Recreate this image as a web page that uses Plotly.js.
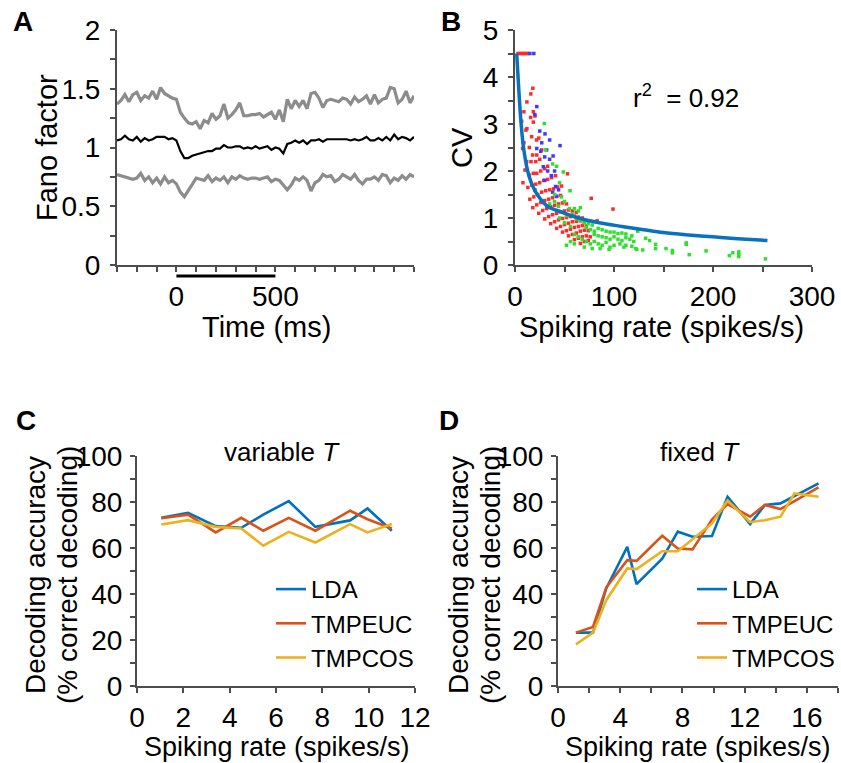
<!DOCTYPE html>
<html>
<head>
<meta charset="utf-8">
<script src="https://cdn.plot.ly/plotly-3.0.1.min.js"></script>
<style>html,body{margin:0;padding:0;background:#fff;}#chart{width:841px;height:763px;}</style>
</head>
<body>
<div id="chart"></div>
<script>
// ---------- Panel A: Fano factor ----------
const timeMs = [-300,-280,-260,-240,-220,-200,-180,-160,-140,-120,-100,-80,-60,-40,-20,0,20,40,60,80,100,120,140,160,180,200,220,240,260,280,300,320,340,360,380,400,420,440,460,480,500,520,540,560,580,600,620,640,660,680,700,720,740,760,780,800,820,840,860,880,900,920,940,960,980,1000,1020,1040,1060,1080,1100,1120,1140,1160,1180,1200];
const fanoMean = [1.06,1.07,1.10,1.07,1.06,1.09,1.05,1.08,1.06,1.07,1.09,1.09,1.09,1.07,1.08,1.06,0.97,0.91,0.91,0.93,0.94,0.95,0.96,0.97,0.97,0.99,0.99,1.02,1.00,1.00,1.01,1.01,0.99,1.00,0.99,1.01,0.99,1.00,1.01,0.98,1.00,0.99,0.95,1.03,1.04,1.06,1.04,1.06,1.03,1.06,1.06,1.07,1.05,1.07,1.07,1.07,1.07,1.07,1.07,1.06,1.07,1.06,1.07,1.09,1.06,1.06,1.08,1.06,1.09,1.06,1.11,1.07,1.09,1.08,1.06,1.09];
const fanoUpper = [1.37,1.40,1.45,1.39,1.45,1.47,1.40,1.44,1.42,1.48,1.41,1.51,1.46,1.44,1.42,1.41,1.30,1.25,1.21,1.20,1.22,1.16,1.23,1.21,1.29,1.24,1.27,1.37,1.25,1.28,1.32,1.38,1.27,1.27,1.28,1.28,1.29,1.26,1.28,1.30,1.24,1.32,1.22,1.41,1.33,1.40,1.35,1.40,1.33,1.46,1.47,1.42,1.34,1.40,1.41,1.40,1.39,1.42,1.41,1.37,1.43,1.39,1.41,1.44,1.37,1.45,1.38,1.41,1.42,1.51,1.50,1.38,1.41,1.48,1.38,1.44];
const fanoLower = [0.77,0.76,0.75,0.74,0.73,0.74,0.78,0.72,0.75,0.70,0.74,0.69,0.75,0.70,0.72,0.69,0.62,0.58,0.63,0.68,0.74,0.73,0.72,0.76,0.71,0.74,0.72,0.75,0.70,0.75,0.73,0.76,0.74,0.73,0.74,0.74,0.73,0.74,0.75,0.71,0.73,0.72,0.68,0.64,0.68,0.74,0.72,0.75,0.72,0.63,0.70,0.72,0.77,0.75,0.76,0.71,0.73,0.77,0.75,0.73,0.77,0.72,0.69,0.73,0.73,0.75,0.72,0.77,0.76,0.70,0.74,0.72,0.76,0.73,0.77,0.75];
const stimBar = [0, 500];

// ---------- Panel B: CV vs spiking rate ----------
const redRate = [3,5,7,9,11,13,18,16,12,9,15.8,18.5,20.2,18.5,11,16.8,21.8,7.7,14.5,17.8,22,11.8,16.2,21,25,10.1,14.5,18.5,22,26,30,33,8,13,17,21,25,29,33,37,41,53,15,19,23,27,31,35,39,43,47,18,22,26,30,34,38,42,46,77,99,24,28,32,36,40,44,48,52,30,34,38,42,46,50,54,58,62,36,40,44,48,52,56,60,64,68,42,46,50,54,58,62,66,70,83,48,52,56,60,64,68,72,54,58,62,66,70,74,60,64,68,72,76,66,70,74,6.7,12,9,27,24];
const redCV   = [4.5,4.5,4.5,4.5,4.5,4.5,3.76,3.64,3.47,3.26,3.14,3.26,3.17,3.04,2.87,2.73,2.66,2.48,2.5,2.34,2.34,2.2,2.2,2.2,2.25,2.02,1.91,1.95,1.95,2.0,2.05,2.1,1.75,1.65,1.7,1.72,1.75,1.8,1.82,1.86,1.9,1.94,1.4,1.45,1.5,1.55,1.58,1.6,1.62,1.66,1.68,1.22,1.28,1.33,1.37,1.4,1.43,1.46,1.48,1.42,1.19,1.1,1.16,1.2,1.24,1.27,1.3,1.32,1.3,0.98,1.03,1.07,1.1,1.13,1.15,1.17,1.15,1.12,0.88,0.92,0.96,0.99,1.01,1.03,1.04,1.02,1.0,0.78,0.82,0.86,0.89,0.92,0.93,0.94,0.92,0.94,0.7,0.73,0.76,0.8,0.82,0.84,0.83,0.62,0.65,0.68,0.72,0.74,0.73,0.54,0.57,0.6,0.62,0.6,0.46,0.5,0.52,3.06,2.9,2.6,2.45,2.7];
const blueRate = [15,19,22,20,30.3,35,45.5,22,26,38.5,30,28.6,33,36.7,40,41,42,38,27,32,25,35,20,44,30];
const blueCV   = [4.5,4.5,3.37,3.2,2.79,2.66,2.54,2.48,2.42,2.32,2.3,2.09,2.0,1.9,2.0,1.67,1.46,1.55,2.6,2.45,2.85,2.25,1.6,1.6,1.8];
const greenRate = [29.6,31,38,42,48.8,45,55.6,40,47,50,44,55,60,64,66,52,58,62,66,70,74,78,72,76,80,84,88,92,96,100,104,108,112,118,124,80,84,88,92,96,100,104,108,112,116,120,60,64,68,72,76,80,84,88,92,96,100,106,112,118,122,56,60,52,70,78,86,95,110,123,129,132,136,142,142,152.5,159,159,173,173,176,193,216.5,220,226,226,226,253,45,50,56,40,35];
const greenCV   = [3.01,2.45,2.15,2.1,1.98,1.75,1.58,1.5,1.45,1.35,1.25,1.2,1.2,1.15,1.22,1.05,1.08,0.98,0.95,0.9,0.88,0.85,0.8,0.75,0.72,0.78,0.75,0.72,0.7,0.7,0.67,0.68,0.66,0.62,0.72,0.65,0.62,0.6,0.58,0.55,0.6,0.55,0.52,0.58,0.55,0.5,0.65,0.6,0.55,0.5,0.45,0.5,0.45,0.42,0.48,0.38,0.42,0.45,0.42,0.4,0.35,0.5,0.45,0.42,0.38,0.35,0.35,0.33,0.38,0.33,0.32,0.57,0.52,0.44,0.35,0.35,0.31,0.26,0.47,0.44,0.22,0.3,0.2,0.26,0.28,0.23,0.18,0.13,1.0,0.9,0.82,1.35,1.3];
const fitRate = [1.7,3.1,4.5,6.2,8.6,12.8,17,22.4,32.8,48,64,85,108,130,150,175,200,225,255];
const fitCV   = [4.5,4.0,3.5,3.0,2.5,2.0,1.72,1.5,1.25,1.12,1.0,0.9,0.82,0.75,0.69,0.64,0.6,0.56,0.52];

// ---------- Panel C: variable T ----------
const rateC = [1.05,2.2,3.4,4.5,5.45,6.55,7.7,9.2,9.95,11.0];
const ldaC    = [73.1,75.3,69.5,68.8,74.5,80.4,69.2,72.0,77.2,67.5];
const tmpeucC = [72.9,74.5,66.8,73.1,67.5,73.1,67.5,76.2,72.5,68.5];
const tmpcosC = [70.2,72.1,69.2,68.5,61.0,67.0,62.4,70.4,66.8,70.4];

// ---------- Panel D: fixed T ----------
const rateD = [1.15,2.25,3.1,4.45,5.05,6.7,7.7,8.65,9.9,10.9,12.35,13.3,14.3,15.2,16.75];
const ldaD    = [23.2,23.2,42.4,60.5,44.3,55.4,67.1,64.9,65.2,82.3,70.4,78.7,79.4,82.6,88.1];
const tmpeucD = [23.2,25.7,42.8,54.7,54.4,65.3,59.8,59.4,72.4,79.1,73.6,78.7,76.9,80.5,86.4];
const tmpcosD = [18.1,23.2,37.3,51.1,50.8,58.6,58.6,64.0,70.7,80.6,71.2,72.1,73.6,83.7,82.3];

const methodNames = ['LDA','TMPEUC','TMPCOS'];
const methodColors = ['#0072BD','#D95319','#EDB120'];

// ---------- layout helpers (pixel -> paper) ----------
const W = 841, H = 763;
const PX = p => p / W;
const PY = p => 1 - p / H;
const FONT = 'Arial, "Liberation Sans", Arimo, sans-serif';
const AXC = '#4d4d4d';

function axisBase(extra) {
  return Object.assign({
    showline: true, linecolor: AXC, linewidth: 2,
    ticks: 'outside', ticklen: 5, tickwidth: 2, tickcolor: AXC,
    showgrid: false, zeroline: false, fixedrange: true,
    tickfont: {family: FONT, size: 28, color: '#000'}
  }, extra);
}
const minorT = (d) => ({dtick: d, ticks: 'outside', ticklen: 5, tickwidth: 2, tickcolor: AXC, showgrid: false});

const traces = [];
// A
traces.push({x: timeMs, y: fanoUpper, xaxis: 'x', yaxis: 'y', mode: 'lines', line: {color: '#8c8c8c', width: 3.2}, showlegend: false, hoverinfo: 'skip'});
traces.push({x: timeMs, y: fanoLower, xaxis: 'x', yaxis: 'y', mode: 'lines', line: {color: '#8c8c8c', width: 3.2}, showlegend: false, hoverinfo: 'skip'});
traces.push({x: timeMs, y: fanoMean, xaxis: 'x', yaxis: 'y', mode: 'lines', line: {color: '#000', width: 2.2}, showlegend: false, hoverinfo: 'skip'});
// B
traces.push({x: redRate, y: redCV, xaxis: 'x2', yaxis: 'y2', mode: 'markers', marker: {symbol: 'square', size: 3.5, color: '#ff2a2a'}, showlegend: false});
traces.push({x: blueRate, y: blueCV, xaxis: 'x2', yaxis: 'y2', mode: 'markers', marker: {symbol: 'square', size: 3.5, color: '#3b3bff'}, showlegend: false});
traces.push({x: greenRate, y: greenCV, xaxis: 'x2', yaxis: 'y2', mode: 'markers', marker: {symbol: 'square', size: 3.5, color: '#2de02d'}, showlegend: false});
traces.push({x: fitRate, y: fitCV, xaxis: 'x2', yaxis: 'y2', mode: 'lines', line: {color: '#0a70c0', width: 3.5, shape: 'spline'}, showlegend: false});
// C
[ldaC, tmpeucC, tmpcosC].forEach((ys, i) => traces.push({
  x: rateC, y: ys, xaxis: 'x3', yaxis: 'y3', mode: 'lines', name: methodNames[i],
  line: {color: methodColors[i], width: 2.6}, legend: 'legend', legendgroup: 'c' + i
}));
// D
[ldaD, tmpeucD, tmpcosD].forEach((ys, i) => traces.push({
  x: rateD, y: ys, xaxis: 'x4', yaxis: 'y4', mode: 'lines', name: methodNames[i],
  line: {color: methodColors[i], width: 2.6}, legend: 'legend2', legendgroup: 'd' + i
}));

const ann = (text, xp, yp, size, opts) => Object.assign({
  text: text, xref: 'paper', yref: 'paper', x: PX(xp), y: PY(yp),
  showarrow: false, font: {family: FONT, size: size, color: '#000'},
  xanchor: 'center', yanchor: 'middle'
}, opts || {});

const legendStyle = (xp, yp) => ({
  x: PX(xp), y: PY(yp), xanchor: 'left', yanchor: 'top',
  bgcolor: 'rgba(0,0,0,0)', borderwidth: 0,
  font: {family: FONT, size: 24, color: '#000'},
  traceorder: 'grouped', tracegroupgap: 0, itemwidth: 30
});

const layout = {
  width: W, height: H, autosize: false,
  margin: {l: 0, r: 0, t: 0, b: 0},
  paper_bgcolor: '#fff', plot_bgcolor: 'rgba(0,0,0,0)',
  font: {family: FONT, color: '#000'},
  xaxis: axisBase({domain: [PX(117), PX(414)], range: [-300, 1200], tickvals: [0, 500], ticktext: ['0', '500'], ticklabelstandoff: 0, minor: Object.assign(minorT(100), {tick0: 0}), anchor: 'y'}),
  yaxis: axisBase({domain: [PY(265), PY(30)], range: [0, 2], dtick: 0.5, minor: minorT(0.25), anchor: 'x', ticklabelstandoff: 4}),
  xaxis2: axisBase({domain: [PX(515), PX(812)], range: [0, 300], dtick: 100, minor: minorT(50), anchor: 'y2'}),
  yaxis2: axisBase({domain: [PY(265), PY(30)], range: [0, 5], dtick: 1, minor: minorT(0.5), anchor: 'x2', ticklabelstandoff: 4}),
  xaxis3: axisBase({domain: [PX(137), PX(415)], range: [0, 12], dtick: 2, anchor: 'y3'}),
  yaxis3: axisBase({domain: [PY(686), PY(456)], range: [0, 100], dtick: 20, minor: minorT(10), anchor: 'x3', ticklabelstandoff: 2}),
  xaxis4: axisBase({domain: [PX(558), PX(838)], range: [0, 18], dtick: 4, minor: minorT(2), anchor: 'y4'}),
  yaxis4: axisBase({domain: [PY(686), PY(456)], range: [0, 100], dtick: 20, minor: minorT(10), anchor: 'x4', ticklabelstandoff: 2}),
  legend: legendStyle(271, 567),
  legend2: legendStyle(692, 567),
  shapes: [
    {type: 'line', xref: 'x', yref: 'paper', x0: stimBar[0], x1: stimBar[1], y0: PY(276), y1: PY(276), line: {color: '#000', width: 3}}
  ],
  annotations: [
    ann('<b>A</b>', 23, 22, 28),
    ann('<b>B</b>', 451, 22, 28),
    ann('<b>C</b>', 26, 420, 28),
    ann('<b>D</b>', 449, 420, 28),
    ann('Fano factor', 47, 148, 29, {textangle: -90}),
    ann('Time (ms)', 266, 327, 29),
    ann('CV', 462, 148, 29, {textangle: -90}),
    ann('Spiking rate (spikes/s)', 661, 327, 29),
    ann('r<sup>2</sup>  = 0.92', 631, 97, 26, {xanchor: 'left'}),
    ann('Decoding accuracy', 35, 575, 28, {textangle: -90}),
    ann('(% correct decoding)', 67, 575, 28, {textangle: -90}),
    ann('Decoding accuracy', 458, 575, 28, {textangle: -90}),
    ann('(% correct decoding)', 490, 575, 28, {textangle: -90}),
    ann('variable <i>T</i>', 282, 452, 26),
    ann('fixed <i>T</i>', 700, 452, 26),
    ann('Spiking rate (spikes/s)', 277, 747, 27),
    ann('Spiking rate (spikes/s)', 698, 747, 27)
  ]
};

Plotly.newPlot('chart', traces, layout, {displayModeBar: false, staticPlot: true});
</script>
</body>
</html>
